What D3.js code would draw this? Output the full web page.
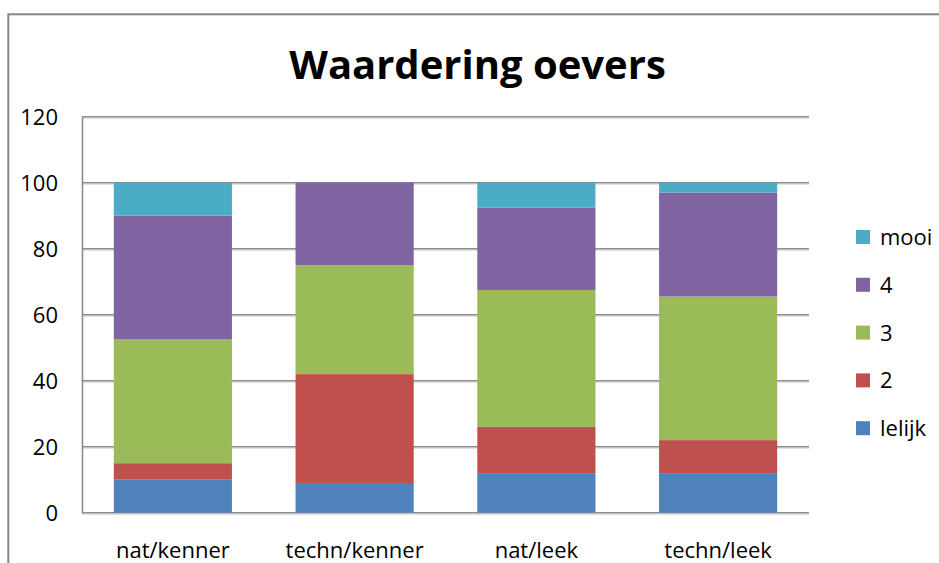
<!DOCTYPE html>
<html>
<head>
<meta charset="utf-8">
<script src="https://cdn.jsdelivr.net/npm/d3@7"></script>
<style>
  body { margin: 0; background: #fff; }
  #chart { width: 939px; height: 563px; }
  text { font-family: "Open Sans", sans-serif; fill: #000; }
</style>
</head>
<body>
<div id="chart"></div>
<script>
var categories = ["nat/kenner", "techn/kenner", "nat/leek", "techn/leek"];
var seriesNames = ["lelijk", "2", "3", "4", "mooi"];
var lelijk = [10, 9, 12, 12];
var twee = [5, 33, 14, 10];
var drie = [37.5, 33, 41.5, 43.5];
var vier = [37.5, 25, 25, 31.5];
var mooi = [10, 0, 7.5, 3];
var yTicks = [0, 20, 40, 60, 80, 100, 120];
var colors = ["#4F81BD", "#C0504D", "#9BBB59", "#8064A2", "#4BACC6"];

var width = 939;
var height = 563;

/* Format Data */
var series = [lelijk, twee, drie, vier, mooi];
var data = categories.map(function(c, i) {
  var row = { cat: c };
  seriesNames.forEach(function(s, j) { row[s] = series[j][i]; });
  return row;
});
var stacked = d3.stack().keys(seriesNames)(data);

var svg = d3.select("#chart").append("svg")
  .attr("width", width)
  .attr("height", height);

/* Outer chart border */
svg.append("rect")
  .attr("x", 8.3)
  .attr("y", 14.3)
  .attr("width", 1000)
  .attr("height", 1000)
  .attr("fill", "none")
  .attr("stroke", "#868686")
  .attr("stroke-width", 2);

/* Scale */
var xScale = d3.scaleBand()
  .domain(categories)
  .range([82, 809])
  .paddingInner(0.35)
  .paddingOuter(0.175);

var yScale = d3.scaleLinear()
  .domain([0, 120])
  .range([512.7, 116.7]);

var color = d3.scaleOrdinal().domain(seriesNames).range(colors);

/* Gridlines */
var grid = svg.append("g").attr("class", "grid");
grid.selectAll(".shadow")
  .data(yTicks).enter()
  .append("line")
  .attr("x1", 82).attr("x2", 809)
  .attr("y1", d => yScale(d) + 1.5)
  .attr("y2", d => yScale(d) + 1.5)
  .attr("stroke", "#d4d4d4")
  .attr("stroke-width", 1);
grid.selectAll(".major")
  .data(yTicks).enter()
  .append("line")
  .attr("x1", 82).attr("x2", 809)
  .attr("y1", d => yScale(d))
  .attr("y2", d => yScale(d))
  .attr("stroke", "#8c8c8c")
  .attr("stroke-width", 1.6);

/* Bars */
svg.append("g")
  .selectAll("g")
  .data(stacked).enter()
  .append("g")
  .attr("fill", d => color(d.key))
  .selectAll("rect")
  .data(d => d).enter()
  .append("rect")
  .attr("x", d => xScale(d.data.cat))
  .attr("width", xScale.bandwidth())
  .attr("y", d => yScale(d[1]))
  .attr("height", d => yScale(d[0]) - yScale(d[1]));

/* Axis */
var yAxis = d3.axisLeft(yScale).tickValues(yTicks).tickSize(0).tickPadding(24);
var yg = svg.append("g")
  .attr("transform", "translate(82,0)")
  .call(yAxis);
yg.select(".domain")
  .attr("stroke", "#8c8c8c")
  .attr("stroke-width", 1.6);
yg.selectAll("text")
  .attr("font-size", "22px")
  .attr("font-family", "'Open Sans', sans-serif")
  .attr("fill", "#000")
  .attr("dy", "0.36em");

var xAxis = d3.axisBottom(xScale).tickSize(0).tickPadding(30);
var xg = svg.append("g")
  .attr("transform", "translate(0,512.7)")
  .call(xAxis);
xg.select(".domain").remove();
xg.selectAll("text")
  .attr("font-size", "22px")
  .attr("font-family", "'Open Sans', sans-serif")
  .attr("fill", "#000");

/* Title */
svg.append("text")
  .attr("x", 477.5)
  .attr("y", 79)
  .attr("text-anchor", "middle")
  .attr("font-size", "40px")
  .attr("font-weight", "bold")
  .text("Waardering oevers");

/* Legend */
var legend = svg.append("g")
  .selectAll("g")
  .data(seriesNames.slice().reverse()).enter()
  .append("g")
  .attr("transform", (d, i) => `translate(856, ${237 + i * 47.8})`);
legend.append("rect")
  .attr("x", 0).attr("y", -7)
  .attr("width", 14).attr("height", 14)
  .attr("fill", d => color(d));
legend.append("text")
  .attr("x", 24)
  .attr("y", 8)
  .attr("font-size", "22px")
  .text(d => d);
</script>
</body>
</html>
